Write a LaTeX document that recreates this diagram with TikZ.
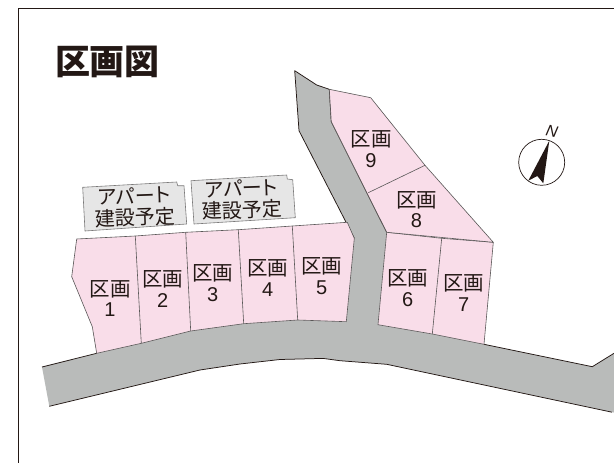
\documentclass[tikz,border=0pt]{standalone}
\usepackage{fontspec}
\setmainfont{Liberation Sans}
\newfontfamily\jpfont{Noto Sans CJK JP}
\newfontfamily\jppalt[RawFeature=+palt]{Noto Sans CJK JP}
\definecolor{inkc}{HTML}{231815}
\definecolor{lotpink}{HTML}{F9DDE9}
\definecolor{roadgray}{HTML}{B9BBBA}
\definecolor{boxgray}{HTML}{E6E6E6}
\definecolor{edgec}{HTML}{595757}
\tikzset{
  lotshape/.style={fill=lotpink,draw=edgec,line width=0.6pt,line join=round},
  lotdiv/.style={draw=edgec,line width=0.6pt},
  roadfill/.style={fill=roadgray,draw=none},
  roadedge/.style={draw=inkc,line width=0.75pt,line join=round},
  aptshape/.style={fill=boxgray,draw=edgec!80,line width=0.6pt,line join=round},
  lotlabel/.style={inner sep=0pt,align=center,text=inkc,font=\fontsize{20}{20.5}\selectfont},
  aptlabel/.style={inner sep=0pt,align=center,text=inkc,font=\jpfont\fontsize{20}{21.5}\selectfont,rotate=2},
}
\newcommand{\qu}{{\jpfont\fontsize{20.5}{20.5}\selectfont 区画}}
\begin{document}
\begin{tikzpicture}[x=1pt,y=-1pt]
\useasboundingbox (0,0) rectangle (614,463);
\fill[white] (0,0) rectangle (614,463);
\draw[inkc,line width=1pt] (18,463) -- (18,8.3) -- (614,8.3);
% road
\fill[roadfill] (42,367) -- (96.7,353.3) -- (141.3,343.3) -- (190.7,331) -- (243.7,323.7) -- (297.7,320) -- (346.3,321.7) -- (354.3,238.3) -- (299,130.7) -- (294.7,70.7) -- (316.7,85) -- (329.3,89.3) -- (331.3,121.7) -- (386.7,232.3) -- (378,324.7) -- (432.3,334) -- (484,344.3) -- (592.3,366.7) -- (614,353.3) -- (614,412.6) -- (386.7,364.3) -- (340,360.7) -- (323,358.4) -- (280,359.5) -- (240,364) -- (200,370) -- (49.3,406.3) -- cycle;
\draw[roadedge] (42,367) -- (96.7,353.3);
\draw[roadedge] (484,344.3) -- (592.3,366.7) -- (614,353.3);
\draw[roadedge] (612,412.2) -- (386.7,364.3) -- (340,360.7) -- (323,358.4) -- (280,359.5) -- (240,364) -- (200,370) -- (49.3,406.3);
\draw[roadedge] (354.3,238.3) -- (299,130.7) -- (294.7,70.7) -- (316.7,85) -- (329.3,89.3) -- (331.3,121.7) -- (386.7,232.3);
% lots 1-5
\draw[lotshape] (76.7,239) -- (135.3,236) -- (185.7,232.3) -- (238.3,229.7) -- (292.3,226) -- (347.3,222.3) -- (354.3,238.3) -- (346.3,321.7) -- (297.7,320) -- (243.7,323.7) -- (190.7,331) -- (141.3,343.3) -- (96.7,353.3) -- (92.3,326.7) -- (71.7,276.7) -- cycle;
\draw[lotdiv] (135.3,236) -- (141.3,343.3);
\draw[lotdiv] (185.7,232.3) -- (190.7,331);
\draw[lotdiv] (238.3,229.7) -- (243.7,323.7);
\draw[lotdiv] (292.3,226) -- (297.7,320);
% lots 6-7
\draw[lotshape] (386.7,232.3) -- (441.7,238.3) -- (493.3,242.3) -- (484,344.3) -- (432.3,334) -- (378,324.7) -- cycle;
\draw[lotdiv] (441.7,238.3) -- (432.3,334);
% lots 8-9
\draw[lotshape] (329.3,89.3) -- (370.7,97.7) -- (425,165.3) -- (493.3,242.3) -- (386.7,232.3) -- (331.3,121.7) -- cycle;
\draw[lotdiv] (425,165.3) -- (368.3,192.7);
% apartment boxes
\draw[aptshape] (82.7,187.3) -- (176.7,182) -- (177.7,185.7) -- (184,185.7) -- (186.7,224) -- (85,231) -- cycle;
\draw[aptshape] (191,180.7) -- (286.7,175) -- (287.3,179) -- (292.7,179.7) -- (295.3,217.7) -- (194,224) -- cycle;
\node[aptlabel] (apt1) at (134.5,207) {{\jppalt アパート}\\建設予定};
\node[aptlabel] (apt2) at (241.7,199.5) {{\jppalt アパート}\\建設予定};
% labels
\node[lotlabel] (lot1) at (110,298.5) {\qu\\1};
\node[lotlabel] (lot2) at (162.8,289) {\qu\\2};
\node[lotlabel] (lot3) at (212.8,283) {\qu\\3};
\node[lotlabel] (lot4) at (267.8,278) {\qu\\4};
\node[lotlabel] (lot5) at (321.8,276) {\qu\\5};
\node[lotlabel] (lot6) at (407.8,288) {\qu\\6};
\node[lotlabel] (lot7) at (463.8,293) {\qu\\7};
\node[lotlabel] (lot8) at (416.5,209.5) {\qu\\8};
\node[lotlabel] (lot9) at (371,149) {\qu\\9};
% title
\node[inner sep=0pt,text=inkc,font=\jpfont\bfseries\fontsize{35}{35}\selectfont] (title) at (107.5,61.5) {区画図};
% compass
\draw[inkc,line width=0.7pt] (541.7,162.3) circle (23);
\fill[inkc] (549.3,140.7) -- (528.3,180.7) -- (537.3,176) -- (543.3,183.3) -- cycle;
\node[inner sep=0pt,text=inkc,font=\itshape\fontsize{16}{16}\selectfont,rotate=-12] (north) at (552,131) {N};
\end{tikzpicture}
\end{document}
